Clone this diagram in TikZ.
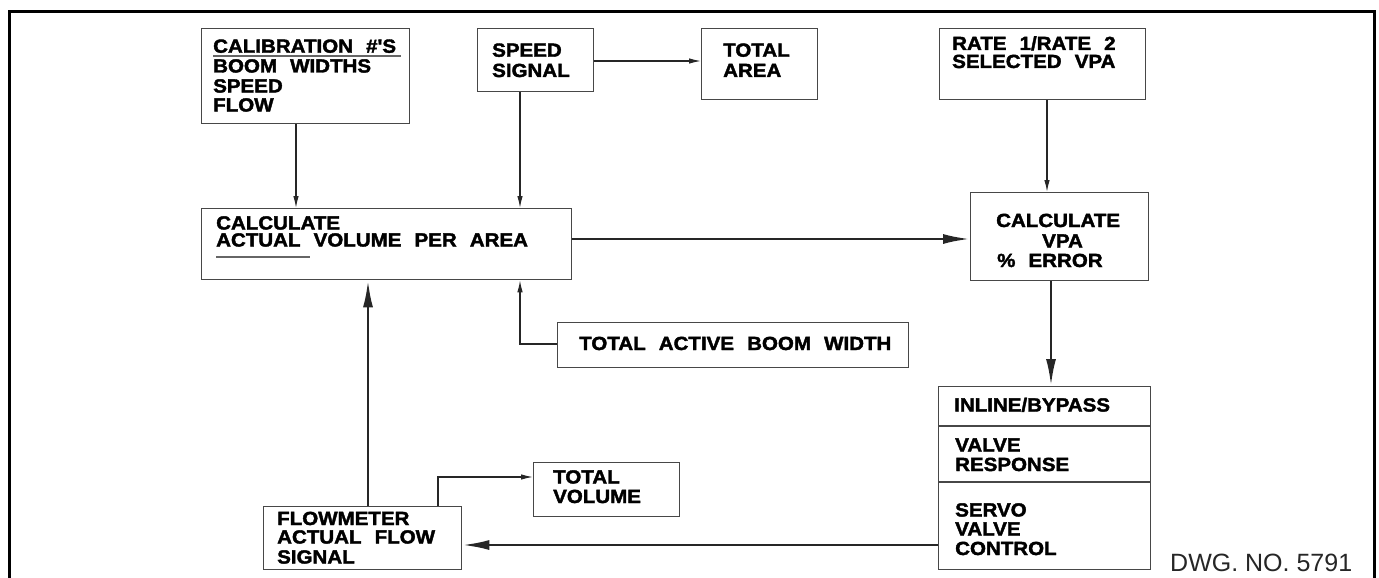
\documentclass[tikz,border=0pt]{standalone}
\usepackage{fontspec}
\usetikzlibrary{arrows.meta}
\newfontfamily\lblfont{Liberation Sans}[FakeStretch=1.08,WordSpace=2.3,FakeBold=2]
\newfontfamily\dwgfont{Liberation Sans}
\tikzset{
  box/.style={draw=black!72, line width=1.3pt, anchor=north west, inner sep=0pt, fill=none},
  lbl/.style={anchor=base west, inner sep=0pt, font=\lblfont\bfseries\fontsize{19}{20}\selectfont, text=black},
  thinarrow/.style={draw=black!85, line width=1.2pt, -{Latex[length=12pt,width=5.5pt]}},
  thickarrow/.style={draw=black!85, line width=2.6pt, -{Latex[length=27pt,width=10pt]}},
  frameline/.style={draw=black, line width=3pt},
  divline/.style={draw=black!72, line width=1.3pt},
  uline/.style={draw=black!60, line width=1.3pt}
}
\begin{document}
\begin{tikzpicture}[x=1pt,y=-1pt]
\useasboundingbox (0,0) rectangle (1379,578);
% frame
\draw[frameline] (9,578) -- (9,12) -- (1374,12) -- (1374,578);

% boxes
\node[box, minimum width=208pt, minimum height=95pt] (cal) at (201,28) {};
\node[box, minimum width=116pt, minimum height=63pt] (speed) at (477,28) {};
\node[box, minimum width=116pt, minimum height=71pt] (area) at (701,28) {};
\node[box, minimum width=206pt, minimum height=71pt] (rate) at (939,28) {};
\node[box, minimum width=370pt, minimum height=71pt] (calc) at (201,208) {};
\node[box, minimum width=178pt, minimum height=88pt] (vpa) at (970,192) {};
\node[box, minimum width=351pt, minimum height=45pt] (tabw) at (557,322) {};
\node[box, minimum width=212pt, minimum height=183pt] (inl) at (938,386) {};
\node[box, minimum width=198pt, minimum height=63pt] (flow) at (263,506) {};
\node[box, minimum width=146pt, minimum height=54pt] (tvol) at (533,462) {};
\draw[divline] (inl.west |- 0,426) -- (inl.east |- 0,426);
\draw[divline] (inl.west |- 0,482) -- (inl.east |- 0,482);

% texts
\node[lbl] (cal1) at (213,52.7) {CALIBRATION \#'S};
\node[lbl] (cal2) at (213,72.5) {BOOM WIDTHS};
\node[lbl] (cal3) at (213,92.5) {SPEED};
\node[lbl] (cal4) at (213,111.5) {FLOW};
\draw[uline] (213,56) -- (401,56);

\node[lbl] (sp1) at (492,56.7) {SPEED};
\node[lbl] (sp2) at (492,77) {SIGNAL};

\node[lbl] (ar1) at (723,56.7) {TOTAL};
\node[lbl] (ar2) at (723,77) {AREA};

\node[lbl] (ra1) at (952,50) {RATE 1/RATE 2};
\node[lbl] (ra2) at (952,68) {SELECTED VPA};

\node[lbl] (ca1) at (216,229.5) {CALCULATE};
\node[lbl] (ca2) at (216,246.5) {ACTUAL VOLUME PER AREA};
\draw[uline] (216,257) -- (310,257);

\node[lbl] (vp1) at (996,227) {CALCULATE};
\node[lbl] (vp2) at (1042,247.5) {VPA};
\node[lbl] (vp3) at (997,267) {\% ERROR};

\node[lbl] (tb1) at (579,350) {TOTAL ACTIVE BOOM WIDTH};

\node[lbl] (in1) at (954,411.5) {INLINE/BYPASS};
\node[lbl] (in2) at (955,451.5) {VALVE};
\node[lbl] (in3) at (955,471) {RESPONSE};
\node[lbl] (in4) at (955,516.5) {SERVO};
\node[lbl] (in5) at (955,535.5) {VALVE};
\node[lbl] (in6) at (955,555) {CONTROL};

\node[lbl] (fl1) at (277,525) {FLOWMETER};
\node[lbl] (fl2) at (277,543.5) {ACTUAL FLOW};
\node[lbl] (fl3) at (277,563.5) {SIGNAL};

\node[lbl] (tv1) at (553,483.5) {TOTAL};
\node[lbl] (tv2) at (553,503) {VOLUME};

\node[anchor=base west, inner sep=0pt, font=\dwgfont\fontsize{25}{28}\selectfont, text=black!85] (dwg) at (1170,571) {DWG. NO. 5791};

% connectors
\draw[thinarrow] (296,0 |- cal.south) -- (296,0 |- calc.north);
\draw[thinarrow] (520,0 |- speed.south) -- (520,0 |- calc.north);
\draw[thinarrow] (speed.east |- 0,61) -- (area.west |- 0,61);
\draw[thinarrow] (1047,0 |- rate.south) -- (1047,0 |- vpa.north);
\draw[thickarrow] (calc.east |- 0,239) -- (vpa.west |- 0,239);
\draw[thickarrow] (1051,0 |- vpa.south) -- (1051,0 |- inl.north);
\draw[thickarrow] (inl.west |- 0,545) -- (flow.east |- 0,545);
\draw[thickarrow] (368,0 |- flow.north) -- (368,0 |- calc.south);
\coordinate (fv) at (438,477);
\draw[thinarrow] (fv |- flow.north) -- (fv) -- (tvol.west |- fv);
\coordinate (tb) at (520,344);
\draw[thinarrow] (tabw.west |- tb) -- (tb) -- (tb |- calc.south);
\end{tikzpicture}
\end{document}
